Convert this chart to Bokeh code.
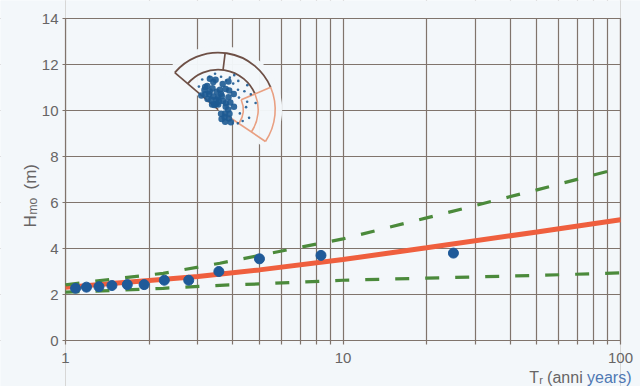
import math
from bokeh.plotting import figure
from bokeh.models import Range1d, FixedTicker, Label, NumeralTickFormatter
from bokeh.embed import file_html
from bokeh.resources import INLINE

# ---------------- data ----------------
x_major_ticks = [1, 10, 100]
x_minor_ticks = [2, 3, 4, 5, 6, 7, 8, 9, 20, 30, 40, 50, 60, 70, 80, 90]
y_ticks = [0, 2, 4, 6, 8, 10, 12, 14]

tr_points = [1.087, 1.19, 1.32, 1.47, 1.67, 1.92, 2.27, 2.78, 3.57, 5.0, 8.33, 25.0]
h_points = [2.27, 2.32, 2.34, 2.39, 2.43, 2.43, 2.62, 2.62, 3.0, 3.55, 3.7, 3.8]

tr_fit = [1, 1.5, 2, 3, 5, 10, 20, 50, 100]
h_fit = [2.31, 2.49, 2.61, 2.78, 3.07, 3.52, 4.03, 4.72, 5.25]

tr_upper = [1, 1.5, 2.25, 3.6, 5, 10, 20, 50, 100]
h_upper = [2.42, 2.68, 2.92, 3.36, 3.7, 4.42, 5.33, 6.55, 7.5]

tr_lower = [1, 1.5, 2.25, 3.6, 5, 10, 20, 50, 100]
h_lower = [2.1, 2.18, 2.27, 2.4, 2.46, 2.62, 2.71, 2.83, 2.94]

# inset (directional wave rose): polar samples, angle in degrees, radius in px
cloud_core_ang = [90, 100, 110, 120, 95, 105, 115, 125, 130, 90, 85, 80, 100, 135, 120,
                  75, 70, 110, 60, 50, -30, -50, -60, -40, -70, -20, 0, 20, 40, 140,
                  130, 95, 105, 115, 125, 85, 70, 60, 45, 30, -45, -55, 10, 140, 80]
cloud_core_r = [5, 10, 14, 18, 18, 22, 26, 12, 20, 12, 20, 26, 28, 15, 26,
                14, 22, 6, 10, 16, 8, 10, 14, 14, 10, 12, 10, 8, 10, 8,
                6, 30, 32, 20, 24, 8, 30, 22, 22, 14, 18, 5, 16, 22, 16]
cloud_sparse_ang = [60, 55, 45, 35, 30, 25, 15, 5, -10, -25, 70, 85, 95, 105, 118,
                    65, 40, 10, 130, 75, -35, -15]
cloud_sparse_r = [30, 35, 28, 32, 24, 36, 30, 28, 22, 27, 34, 33, 36, 34, 34,
                  38, 38, 38, 30, 30, 24, 32]

# ---------------- layout constants (page pixels) ----------------
W, H = 640, 386
PLOT_L, PLOT_R, PLOT_T, PLOT_B = 65, 620, 18, 340
PX_DEC = (PLOT_R - PLOT_L) / 2.0          # pixels per decade on x
PX_Y = (PLOT_B - PLOT_T) / 14.0           # pixels per unit on y
INSET_X, INSET_Y = 3.55, 10.04
R_OUT, R_MID, R_IN = 57, 40, 25

GRID = "#80746c"
BG = "#f3f7fa"
TXT = "#676565"
DARK = "#6e5046"
ORANGE = "#e9a082"
FONT = "Liberation Sans"

x_lo = 10 ** (-PLOT_L / PX_DEC)
x_hi = 10 ** ((W - PLOT_L) / PX_DEC)
y_lo = -(H - PLOT_B) / PX_Y
y_hi = 14 + PLOT_T / PX_Y


def polar(ang, r):
    a = math.radians(ang)
    return (INSET_X * 10 ** (r * math.cos(a) / PX_DEC), INSET_Y + r * math.sin(a) / PX_Y)


p = figure(x_axis_type="log", x_range=Range1d(x_lo, x_hi), y_range=Range1d(y_lo, y_hi),
           frame_width=W, frame_height=H, output_backend="svg", toolbar_location=None,
           min_border=0)

p.background_fill_color = BG
p.border_fill_color = BG
p.outline_line_color = None

# axes, fixed at the plot area's edges
p.xaxis.fixed_location = 0
p.yaxis.fixed_location = 1
p.xaxis.ticker = FixedTicker(ticks=x_major_ticks, minor_ticks=x_minor_ticks)
p.xaxis.formatter = NumeralTickFormatter(format="0")
p.yaxis.ticker = FixedTicker(ticks=y_ticks)
for ax in (p.xaxis, p.yaxis):
    ax.axis_line_color = None
    ax.major_tick_line_color = GRID
    ax.minor_tick_line_color = GRID
    ax.major_tick_line_width = 1.2
    ax.minor_tick_line_width = 1.2
    ax.major_tick_in = 0
    ax.minor_tick_in = 0
    ax.major_label_text_font = FONT
    ax.major_label_text_font_size = "15px"
    ax.major_label_text_color = TXT
p.xaxis.major_tick_out = 4
p.xaxis.minor_tick_out = 4
p.xaxis.major_label_standoff = 8
p.yaxis.major_tick_out = 3
p.yaxis.minor_tick_line_color = None
p.yaxis.major_label_standoff = 4

# grid
p.xgrid.ticker = p.xaxis.ticker
p.xgrid.grid_line_color = GRID
p.xgrid.minor_grid_line_color = GRID
p.xgrid.grid_line_width = 1.2
p.xgrid.minor_grid_line_width = 1.2
p.ygrid.ticker = p.yaxis.ticker
p.ygrid.grid_line_color = GRID
p.ygrid.grid_line_width = 1.2

# mask the grid outside the plotting area, then frame it
p.quad(left=[x_lo, 100, 1, 1], right=[1, x_hi, 100, 100],
       bottom=[y_lo, y_lo, y_lo, 14], top=[y_hi, y_hi, 0, y_hi],
       fill_color=BG, line_color=None)
p.quad(left=[1], right=[100], bottom=[0], top=[14], fill_color=None,
       line_color=GRID, line_width=1.2)

# ---------------- inset wave rose ----------------
p.wedge(x=[INSET_X], y=[INSET_Y], radius=64, radius_units="screen",
        start_angle=-40, end_angle=146, start_angle_units="deg", end_angle_units="deg",
        fill_color=BG, fill_alpha=0.97, line_color=None)
for rr in (R_OUT, R_MID):
    p.arc(x=[INSET_X], y=[INSET_Y], radius=rr, radius_units="screen",
          start_angle=23, end_angle=139.6, start_angle_units="deg", end_angle_units="deg",
          line_color=DARK, line_width=1.8)
for rr in (R_OUT, R_MID, R_IN):
    p.arc(x=[INSET_X], y=[INSET_Y], radius=rr, radius_units="screen",
          start_angle=-34, end_angle=23, start_angle_units="deg", end_angle_units="deg",
          line_color=ORANGE, line_width=1.6)
seg_dark = [(139.6, 0, R_OUT), (83, R_MID, R_OUT)]
seg_orange = [(23, R_IN, R_OUT), (-34, 6, R_OUT)]
for segs, col in ((seg_dark, DARK), (seg_orange, ORANGE)):
    x0, y0, x1, y1 = [], [], [], []
    for ang, r0, r1 in segs:
        a, b = polar(ang, r0)
        c, d = polar(ang, r1)
        x0.append(a); y0.append(b); x1.append(c); y1.append(d)
    p.segment(x0=x0, y0=y0, x1=x1, y1=y1, line_color=col, line_width=1.7)

core = [polar(a, r) for a, r in zip(cloud_core_ang, cloud_core_r)]
sparse = [polar(a, r) for a, r in zip(cloud_sparse_ang, cloud_sparse_r)]
p.scatter(x=[c[0] for c in core], y=[c[1] for c in core], size=6.5,
          fill_color="#1d5a92", line_color=None, alpha=0.9)
p.scatter(x=[c[0] for c in sparse], y=[c[1] for c in sparse], size=2.6,
          fill_color="#1d5a92", line_color=None, alpha=0.9)

# ---------------- data series ----------------
p.line(tr_fit, h_fit, line_color="#ef5f3e", line_width=5)
p.line(tr_upper, h_upper, line_color="#4b8a3b", line_width=3.2, line_dash="14 16")
p.line(tr_lower, h_lower, line_color="#4b8a3b", line_width=3.2, line_dash="14 16")
p.scatter(tr_points, h_points, size=10, fill_color="#1f5a99", line_color="#1f5a99")


# ---------------- axis titles (screen units, y measured up from the bottom) ----------------
def lab(text, x, y, size, color=TXT, align="left", angle=0.0):
    p.add_layout(Label(x=x, y=H - y, x_units="screen", y_units="screen", text=text,
                       text_font=FONT, text_font_size=size, text_color=color,
                       text_align=align, text_baseline="alphabetic", angle=angle))


# x title: T_r (anni years)   (x, y given as page pixels from top-left)
lab("T", 538.5, 377, "16px", align="right")
lab("r", 538.8, 379.5, "11px")
lab("(anni", 582.2, 377, "16px", align="right")
lab("years)", 631, 377, "16px", color="#4f78b3", align="right")

# y title: H_mo (m)
lab("H", 30, 227, "17px", angle=math.pi / 2)
lab("mo", 32.5, 214, "12px", angle=math.pi / 2)
lab("(m)", 30, 189, "17px", angle=math.pi / 2)

open("out.html", "w").write(file_html(p, INLINE))
